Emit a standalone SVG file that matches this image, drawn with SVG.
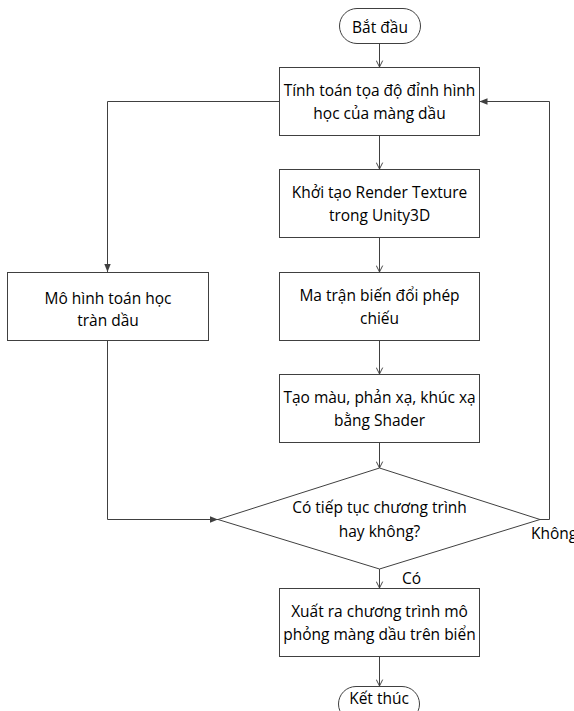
<svg xmlns="http://www.w3.org/2000/svg" width="574" height="711" viewBox="0 0 574 711">
<defs>
<style>
.n{fill:#fff;stroke:#404040;stroke-width:1}
.t{font-family:"Open Sans","Noto Sans",sans-serif;font-size:15.5px;fill:#000;text-anchor:middle}
.l{font-family:"Open Sans","Noto Sans",sans-serif;font-size:15.5px;fill:#000}
.c{fill:none;stroke:#404040;stroke-width:1}
</style>
<marker id="open" viewBox="0 0 10 10" refX="9" refY="5" markerWidth="8" markerHeight="8" markerUnits="userSpaceOnUse" orient="auto">
<path d="M1,1 L9,5 L1,9" fill="none" stroke="#404040" stroke-width="1.2"/>
</marker>
<marker id="fill" viewBox="0 0 10 10" refX="10" refY="5" markerWidth="8" markerHeight="8" markerUnits="userSpaceOnUse" orient="auto">
<path d="M0,1 L10,5 L0,9 Z" fill="#404040"/>
</marker>
</defs>
<rect width="574" height="711" fill="#fff"/>
<g id="connectors">
<path class="c" d="M379.5,43 V67" marker-end="url(#open)"/>
<path class="c" d="M379.5,135 V169" marker-end="url(#open)"/>
<path class="c" d="M379.5,238 V272" marker-end="url(#open)"/>
<path class="c" d="M379.5,341 V374" marker-end="url(#open)"/>
<path class="c" d="M379.5,443 V468" marker-end="url(#open)"/>
<path class="c" d="M379.5,569 V588" marker-end="url(#open)"/>
<path class="c" d="M379.5,657 V686" marker-end="url(#open)"/>
<path class="c" d="M279,101.5 H107.5 V272" marker-end="url(#fill)"/>
<path class="c" d="M107.5,341 V519.5 H218" marker-end="url(#fill)"/>
<path class="c" d="M540,519.5 H549.5 V101.5 H479.5" marker-end="url(#fill)"/>
<text class="l" x="531" y="539">Không</text>
<text class="l" x="402" y="584">Có</text>
</g>
<g id="start">
<rect class="n" x="339.5" y="8.5" width="81" height="35" rx="17.5"/>
<text class="t" x="380" y="33">Bắt đầu</text>
</g>
<g id="compute">
<rect class="n" x="279.5" y="67.5" width="200" height="68"/>
<text class="t" x="379.5" y="96">Tính toán tọa độ đỉnh hình</text>
<text class="t" x="379.5" y="119">học của màng dầu</text>
</g>
<g id="render">
<rect class="n" x="279.5" y="169.5" width="200" height="68"/>
<text class="t" x="379.5" y="198">Khởi tạo Render Texture</text>
<text class="t" x="379.5" y="221">trong Unity3D</text>
</g>
<g id="matrix">
<rect class="n" x="279.5" y="272.5" width="200" height="68"/>
<text class="t" x="379.5" y="301">Ma trận biến đổi phép</text>
<text class="t" x="379.5" y="324">chiếu</text>
</g>
<g id="shader">
<rect class="n" x="279.5" y="374.5" width="200" height="68"/>
<text class="t" x="379.5" y="403">Tạo màu, phản xạ, khúc xạ</text>
<text class="t" x="379.5" y="426">bằng Shader</text>
</g>
<g id="model">
<rect class="n" x="7.5" y="272.5" width="201" height="68"/>
<text class="t" x="108" y="304">Mô hình toán học</text>
<text class="t" x="108" y="326">tràn dầu</text>
</g>
<g id="decision">
<polygon class="n" points="379.5,468 540,519.5 379.5,569 218,519.5"/>
<text class="t" x="379.5" y="513">Có tiếp tục chương trình</text>
<text class="t" x="379.5" y="537">hay không?</text>
</g>
<g id="output">
<rect class="n" x="279.5" y="588.5" width="200" height="68"/>
<text class="t" x="379.5" y="617">Xuất ra chương trình mô</text>
<text class="t" x="379.5" y="640">phỏng màng dầu trên biển</text>
</g>
<g id="end">
<rect class="n" x="338.5" y="686.5" width="81" height="35" rx="17.5"/>
<text class="t" x="379" y="704">Kết thúc</text>
</g>
</svg>
